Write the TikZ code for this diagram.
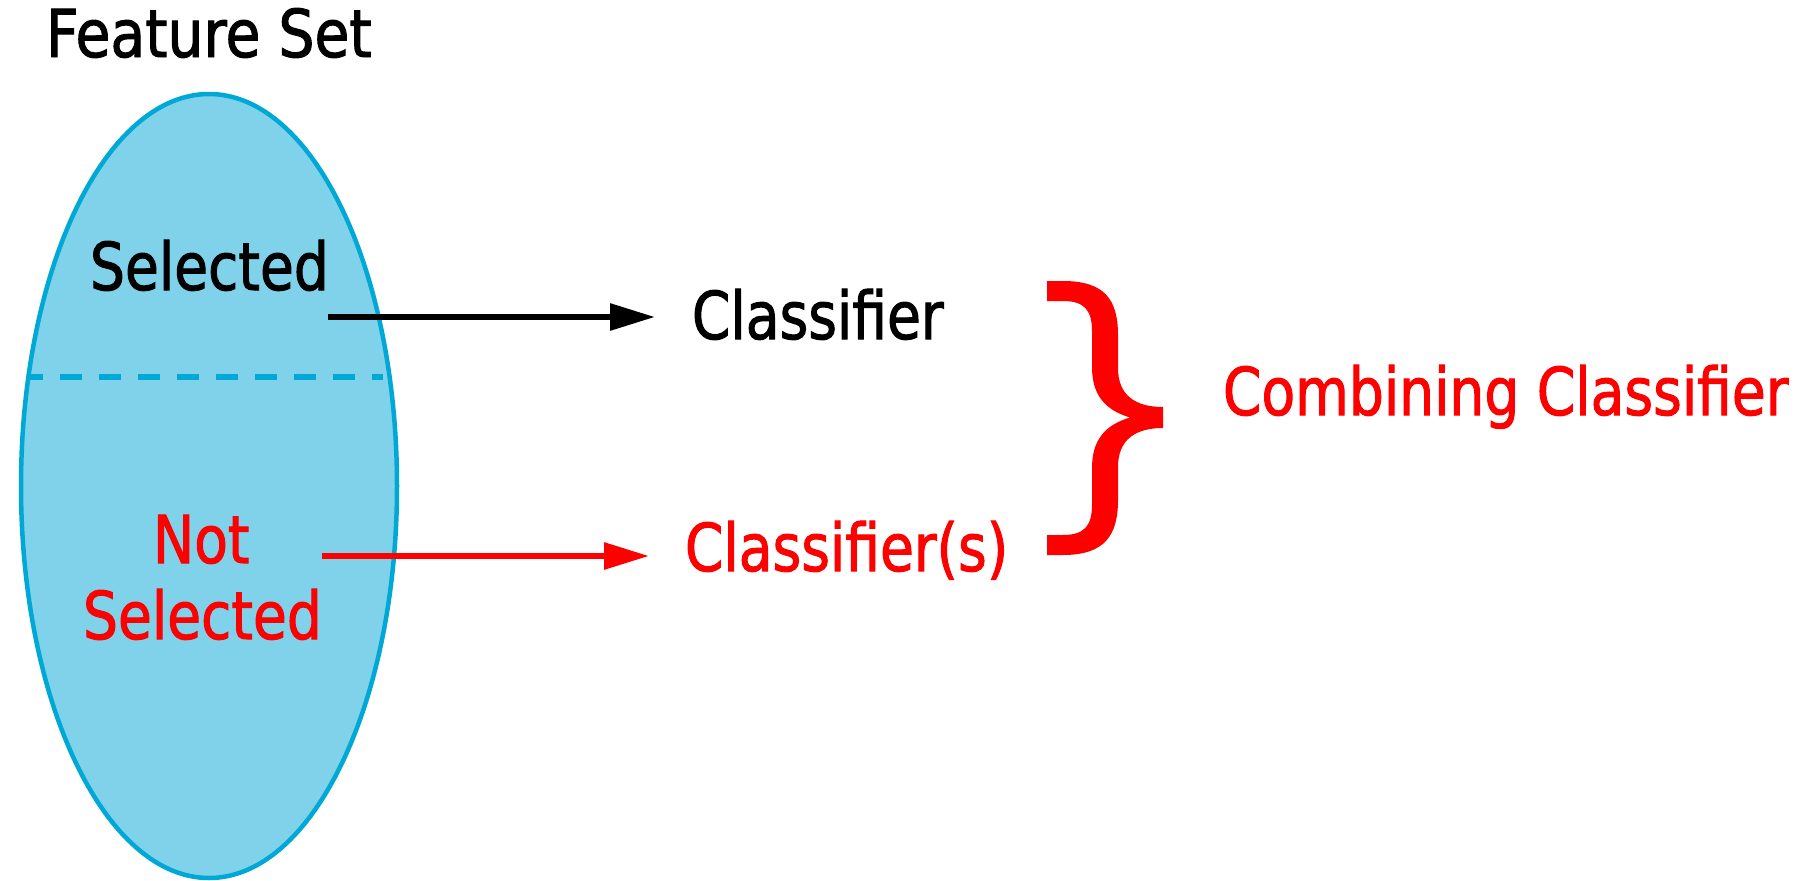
\documentclass[tikz,border=0pt]{standalone}
\usepackage{fontspec}
\setmainfont{DejaVu Sans}[FakeStretch=0.835,FakeBold=1.5]
\newfontfamily\titlefont{DejaVu Sans}[FakeStretch=0.86,FakeBold=1.5]
\usetikzlibrary{arrows.meta,shapes.geometric}
\definecolor{ellfill}{RGB}{127,210,234}
\definecolor{elldraw}{RGB}{0,168,214}
\definecolor{pred}{RGB}{255,0,0}
\tikzset{
  lbl/.style={anchor=base west, inner sep=0pt, outer sep=0pt, font=\fontsize{66}{79}\selectfont},
  conn/.style={line width=6pt, -{Triangle[length=45pt,width=26pt]}},
}
\begin{document}
\begin{tikzpicture}[x=1pt,y=-1pt]
\useasboundingbox (0,0) rectangle (1805,881);
% ellipse
\node[ellipse, minimum width=376pt, minimum height=784pt, fill=ellfill, draw=elldraw, line width=4.5pt, inner sep=0pt] (fs) at (209,486) {};
% dashed divider
\coordinate (d1) at (28,377);
\coordinate (d2) at (383,377);
\draw[elldraw, line width=6pt, dash pattern=on 22pt off 17pt, dash phase=7pt] (d1) -- (d2);
% labels
\node[lbl, font=\titlefont\fontsize{66}{79}\selectfont] (title) at (46,57) {Feature Set};
\node[lbl] (sel) at (90,290) {Selected};
\node[lbl, text=pred] (not) at (153,563) {Not};
\node[lbl, text=pred] (nsel) at (83,639) {Selected};
\node[lbl] (cls) at (692,339) {Classifier};
\node[lbl, text=pred] (clss) at (685,571) {Classifier(s)};
\node[lbl, text=pred] (comb) at (1223,415) {Combining Classifier};
% connectors
\coordinate (a1) at (328,317);
\coordinate (a2) at (655,317);
\coordinate (b1) at (322,556);
\coordinate (b2) at (649,556);
\draw[conn, black] (a1) -- (a2);
\draw[conn, pred] (b1) -- (b2);
% brace
\fill[pred] (1047,281) -- (1063,281) .. controls (1105,281) and (1118,300) .. (1118,335)
  -- (1118,368) .. controls (1118,395) and (1135,407) .. (1163,407)
  -- (1163,428) .. controls (1135,428) and (1118,440) .. (1118,467)
  -- (1118,500) .. controls (1118,535) and (1105,555) .. (1063,555)
  -- (1047,555) -- (1047,535) -- (1063,535)
  .. controls (1085,535) and (1092,525) .. (1092,505)
  -- (1092,468) .. controls (1092,440) and (1105,425) .. (1130,417.5)
  .. controls (1105,410) and (1092,395) .. (1092,367)
  -- (1092,331) .. controls (1092,311) and (1085,301) .. (1063,301)
  -- (1047,301) -- cycle;
\end{tikzpicture}
\end{document}
